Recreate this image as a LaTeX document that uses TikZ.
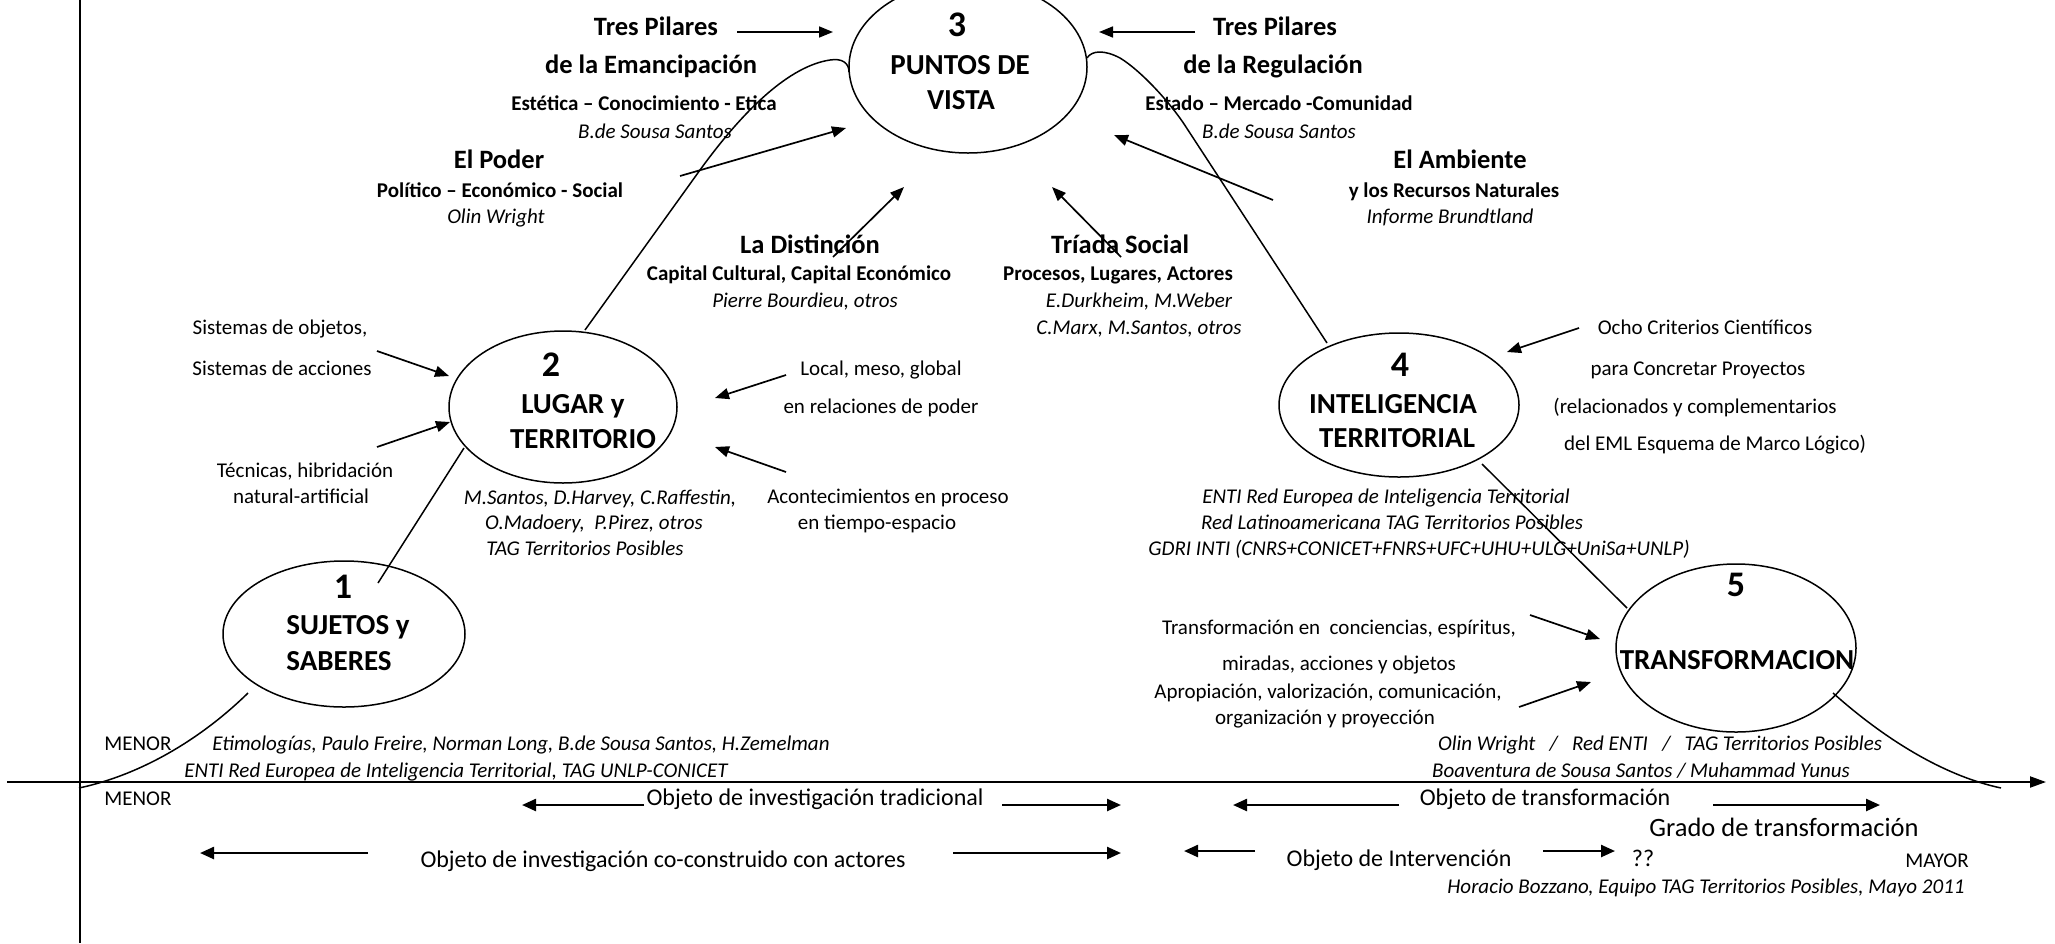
\documentclass[tikz,border=0pt]{standalone}
\usepackage{fontspec}
\setmainfont{Carlito}
\usetikzlibrary{arrows.meta,shapes.geometric}
\begin{document}
\begin{tikzpicture}[x=1pt,y=-1pt,
  lbl/.style={inner sep=0pt, anchor=base},
  bigb/.style={lbl, font=\fontsize{26.5}{30}\selectfont\bfseries},
  smb/.style={lbl, font=\fontsize{21}{25}\selectfont\bfseries},
  reg/.style={lbl, font=\fontsize{21}{25}\selectfont},
  ita/.style={lbl, font=\fontsize{21}{25}\selectfont\itshape},
  bot/.style={lbl, font=\fontsize{24}{28}\selectfont},
  elab/.style={lbl, font=\fontsize{29}{33}\selectfont\bfseries},
  num/.style={lbl, font=\fontsize{36}{40}\selectfont\bfseries},
  ell/.style={draw, ellipse, line width=1.5pt, inner sep=0pt},
  arr/.style={-{Triangle[length=14pt,width=11pt]}, line width=1.7pt},
  barr/.style={-{Triangle[length=14pt,width=12pt]}, line width=2.4pt},
  conn/.style={line width=1.5pt},
  axis/.style={line width=2pt}]
\useasboundingbox (0,0) rectangle (2055,943);

% axes
\coordinate (vt) at (80,0);
\coordinate (vb) at (80,943);
\coordinate (hl) at (7,782);
\coordinate (hr) at (2046,782);
\draw[axis] (vt) -- (vb);
\draw[axis,-{Triangle[length=16pt,width=11pt]}] (hl) -- (hr);

% ellipses
\node[ell, minimum width=242pt, minimum height=146pt] (e1) at (344,634) {};
\node[ell, minimum width=228pt, minimum height=152pt] (e2) at (563,407) {};
\node[ell, minimum width=238pt, minimum height=172pt] (e3) at (968,67) {};
\node[ell, minimum width=240pt, minimum height=144pt] (e4) at (1399,405) {};
\node[ell, minimum width=240pt, minimum height=168pt] (e5) at (1736,648) {};

% ellipse labels
\node[num]  (n3) at (957,36.5) {3};
\node[elab] (l3a) at (960,74) {PUNTOS DE};
\node[elab] (l3b) at (961,109) {VISTA};
\node[num]  (n2) at (551,376.5) {2};
\node[elab] (l2a) at (573,413) {LUGAR y};
\node[elab] (l2b) at (583,448) {TERRITORIO};
\node[num]  (n1) at (343,598.5) {1};
\node[elab] (l1a) at (348,634) {SUJETOS y};
\node[elab] (l1b) at (339,670) {SABERES};
\node[num]  (n4) at (1400,376.5) {4};
\node[elab] (l4a) at (1393,413) {INTELIGENCIA};
\node[elab] (l4b) at (1397,447) {TERRITORIAL};
\node[num]  (n5) at (1736,596.5) {5};
\node[elab] (l5a) at (1737,669) {TRANSFORMACION};

% curve through the ellipses
\coordinate (ca0) at (79,788);
\coordinate (ca1) at (248,693);
\draw[conn] (ca1) .. controls (200,740) and (140,775) .. (ca0);
\coordinate (cb0) at (378,583);
\coordinate (cb1) at (464,448);
\draw[conn] (cb0) -- (cb1);
\coordinate (cc0) at (585,330);
\coordinate (cc1) at (849,72);
\draw[conn] (cc0) -- (700,170) .. controls (745,108) and (790,66) .. (830,60)
  .. controls (842,58) and (849,63) .. (cc1);
\coordinate (cd0) at (1087,58);
\coordinate (cd1) at (1327,343);
\draw[conn] (cd0) .. controls (1092,50) and (1105,50) .. (1120,58)
  .. controls (1140,70) and (1170,102) .. (1186,127) -- (cd1);
\coordinate (ce0) at (1482,464);
\coordinate (ce1) at (1627,608);
\draw[conn] (ce0) -- (ce1);
\coordinate (cf0) at (1833,693);
\coordinate (cf1) at (2001,788);
\draw[conn] (cf0) .. controls (1880,735) and (1940,775) .. (cf1);

% top left group
\node[bigb] (tp1) at (656,35.5) {Tres Pilares};
\node[bigb] (tp2) at (651,73.5) {de la Emancipación};
\node[smb]  (tp3) at (644,110) {Estética – Conocimiento - Etica};
\node[ita]  (tp4) at (655,138) {B.de Sousa Santos};
\node[bigb] (po1) at (499,168.5) {El Poder};
\node[smb]  (po2) at (500,197) {Político – Económico - Social};
\node[ita]  (po3) at (496,223) {Olin Wright};

% top right group
\node[bigb] (tr1) at (1275,35.5) {Tres Pilares};
\node[bigb] (tr2) at (1273,73.5) {de la Regulación};
\node[smb]  (tr3) at (1279,110) {Estado – Mercado -Comunidad};
\node[ita]  (tr4) at (1279,138) {B.de Sousa Santos};
\node[bigb] (am1) at (1460,168.5) {El Ambiente};
\node[smb]  (am2) at (1454,197) {y los Recursos Naturales};
\node[ita]  (am3) at (1450,223) {Informe Brundtland};

% middle groups
\node[bigb] (di1) at (810,253.5) {La Distinción};
\node[smb]  (di2) at (799,280) {Capital Cultural, Capital Económico};
\node[ita]  (di3) at (805,307) {Pierre Bourdieu, otros};
\node[bigb] (ts1) at (1120,253.5) {Tríada Social};
\node[smb]  (ts2) at (1118,280) {Procesos, Lugares, Actores};
\node[ita]  (ts3) at (1139,307) {E.Durkheim, M.Weber};
\node[ita]  (ts4) at (1139,334) {C.Marx, M.Santos, otros};

% around ellipse 2
\node[reg] (s1) at (280,334) {Sistemas de objetos,};
\node[reg] (s2) at (282,375) {Sistemas de acciones};
\node[reg] (s3) at (305,477) {Técnicas, hibridación};
\node[reg] (s4) at (301,503) {natural-artificial};
\node[reg] (s5) at (881,375) {Local, meso, global};
\node[reg] (s6) at (881,413) {en relaciones de poder};
\node[reg] (s7) at (888,503) {Acontecimientos en proceso};
\node[reg] (s8) at (877,529) {en tiempo-espacio};
\node[ita] (s9) at (600,504) {M.Santos, D.Harvey, C.Raffestin,};
\node[ita] (s10) at (594,529) {O.Madoery,\ \ P.Pirez, otros};
\node[ita] (s11) at (585,555) {TAG Territorios Posibles};

% around ellipse 4
\node[reg] (o1) at (1705,334) {Ocho Criterios Científicos};
\node[reg] (o2) at (1698,375) {para Concretar Proyectos};
\node[reg] (o3) at (1695,413) {(relacionados y complementarios};
\node[reg] (o4) at (1715,450) {del EML Esquema de Marco Lógico)};
\node[ita] (o5) at (1386,503) {ENTI Red Europea de Inteligencia Territorial};
\node[ita] (o6) at (1392,529) {Red Latinoamericana TAG Territorios Posibles};
\node[ita] (o7) at (1419,555) {GDRI INTI (CNRS+CONICET+FNRS+UFC+UHU+ULG+UniSa+UNLP)};

% around ellipse 5
\node[reg] (f1) at (1339,634) {Transformación en\ \ conciencias, espíritus,};
\node[reg] (f2) at (1339,670) {miradas, acciones y objetos};
\node[reg] (f3) at (1328,698) {Apropiación, valorización, comunicación,};
\node[reg] (f4) at (1325,724) {organización y proyección};
\node[ita] (f5) at (1660,750) {Olin Wright\ \ \ /\ \ \ Red ENTI\ \ \ /\ \ \ TAG Territorios Posibles};
\node[ita] (f6) at (1641,777) {Boaventura de Sousa Santos / Muhammad Yunus};

% bottom
\node[reg] (m1) at (138,750) {MENOR};
\node[ita] (m2) at (521,750) {Etimologías, Paulo Freire, Norman Long, B.de Sousa Santos, H.Zemelman};
\node[ita] (m3) at (456,777) {ENTI Red Europea de Inteligencia Territorial, TAG UNLP-CONICET};
\node[reg] (m4) at (138,805) {MENOR};
\node[bot] (b1) at (815,805) {Objeto de investigación tradicional};
\node[bot] (b2) at (1545,805) {Objeto de transformación};
\node[lbl, font=\fontsize{26.5}{30}\selectfont] (b3) at (1784,836.5) {Grado de transformación};
\node[bot] (b4) at (663,867) {Objeto de investigación co-construido con actores};
\node[bot] (b5) at (1399,866) {Objeto de Intervención};
\node[bot] (b6) at (1643,866) {??};
\node[reg] (b7) at (1937,867) {MAYOR};
\node[ita] (b8) at (1706,893) {Horacio Bozzano, Equipo TAG Territorios Posibles, Mayo 2011};

% arrows
\coordinate (a1s) at (737,32);   \coordinate (a1e) at (833,32);
\coordinate (a2s) at (1195,32);  \coordinate (a2e) at (1099,32);
\coordinate (a3s) at (680,176);  \coordinate (a3e) at (846,128);
\coordinate (a4s) at (1273,200); \coordinate (a4e) at (1114,135);
\coordinate (a5s) at (833,257);  \coordinate (a5e) at (904,187);
\coordinate (a6s) at (1121,257); \coordinate (a6e) at (1052,187);
\coordinate (a7s) at (377,351);  \coordinate (a7e) at (449,376);
\coordinate (a8s) at (377,447);  \coordinate (a8e) at (450,422);
\coordinate (a9s) at (786,375);  \coordinate (a9e) at (715,398);
\coordinate (a10s) at (786,472); \coordinate (a10e) at (715,447);
\coordinate (a11s) at (1579,328); \coordinate (a11e) at (1507,352);
\coordinate (a12s) at (1530,615); \coordinate (a12e) at (1600,639);
\coordinate (a13s) at (1519,707); \coordinate (a13e) at (1591,682);
\foreach \i in {1,...,13} \draw[arr] (a\i s) -- (a\i e);

\coordinate (a14s) at (644,805);  \coordinate (a14e) at (522,805);
\coordinate (a15s) at (1002,805); \coordinate (a15e) at (1121,805);
\coordinate (a16s) at (1399,805); \coordinate (a16e) at (1233,805);
\coordinate (a17s) at (1713,805); \coordinate (a17e) at (1880,805);
\coordinate (a18s) at (368,853);  \coordinate (a18e) at (200,853);
\coordinate (a19s) at (953,853);  \coordinate (a19e) at (1121,853);
\coordinate (a20s) at (1255,851); \coordinate (a20e) at (1184,851);
\coordinate (a21s) at (1543,851); \coordinate (a21e) at (1615,851);
\foreach \i in {14,...,21} \draw[barr] (a\i s) -- (a\i e);
\end{tikzpicture}
\end{document}
